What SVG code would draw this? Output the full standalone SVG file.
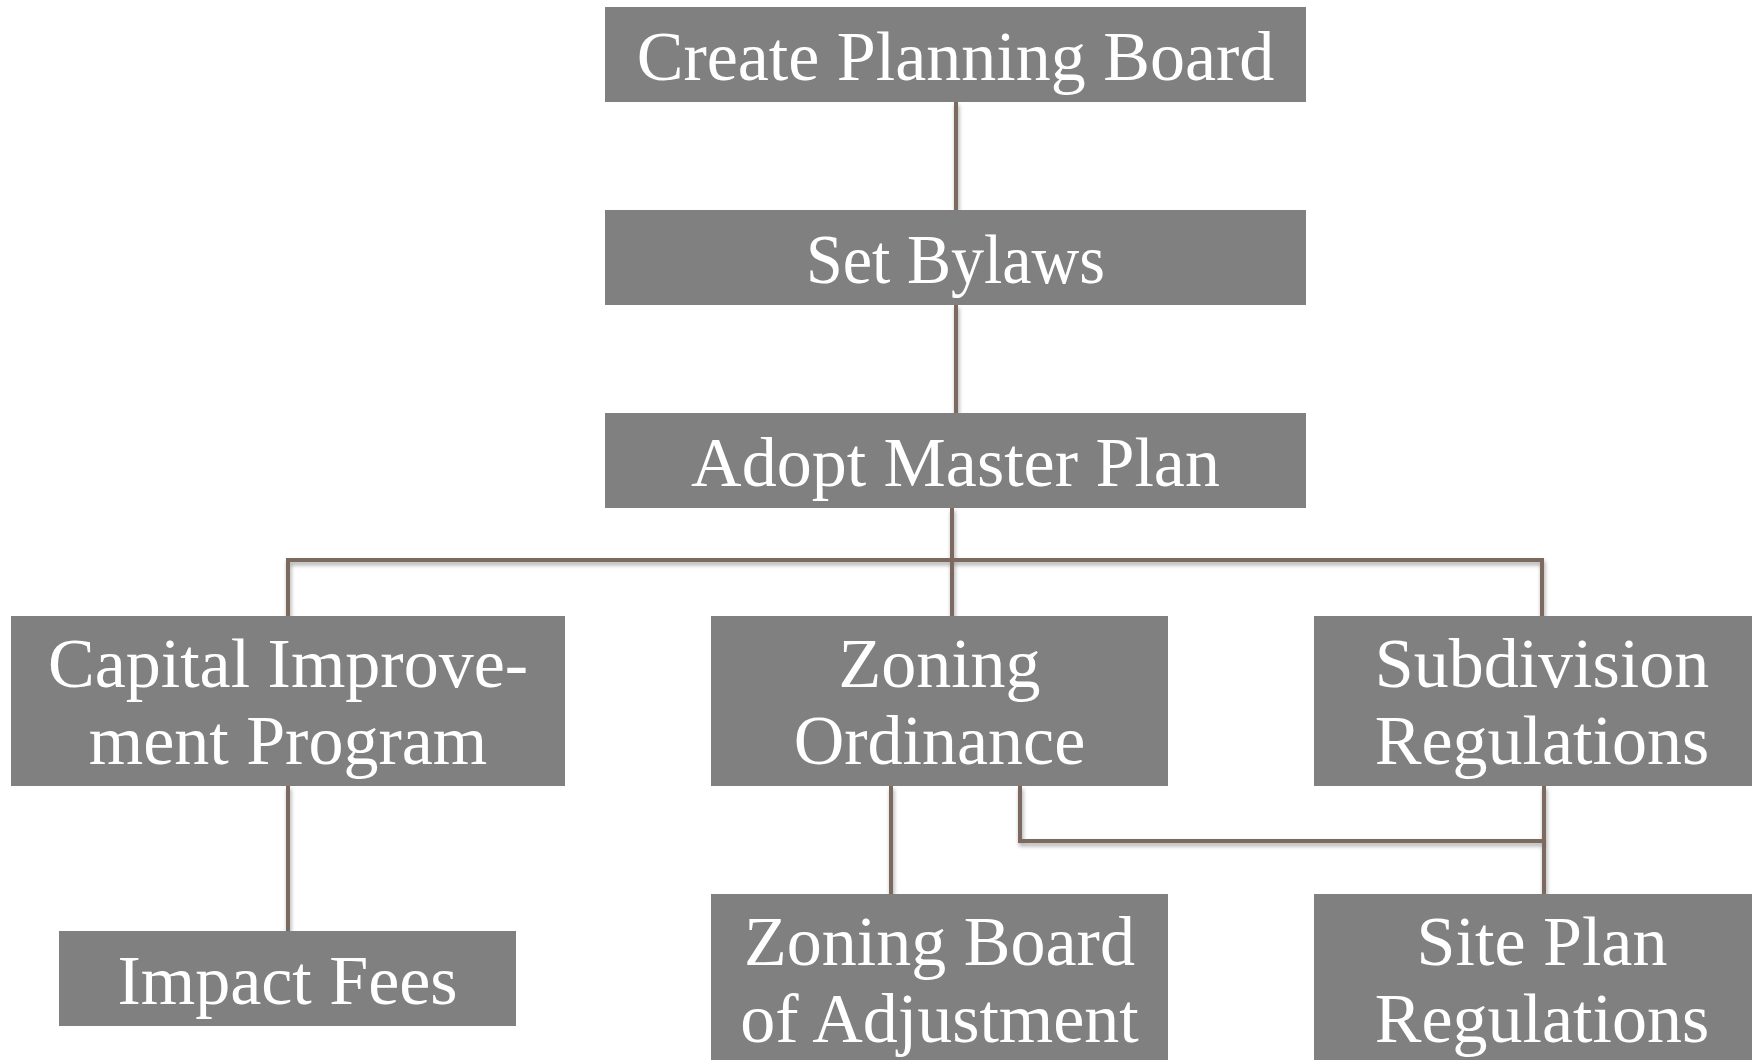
<svg xmlns="http://www.w3.org/2000/svg" width="1752" height="1060" viewBox="0 0 1752 1060">
<defs>
<filter id="sh" x="-5%" y="-50%" width="110%" height="200%">
<feGaussianBlur in="SourceAlpha" stdDeviation="2"/>
<feOffset dx="1" dy="3" result="b"/>
<feComponentTransfer><feFuncA type="linear" slope="0.35"/></feComponentTransfer>
<feMerge><feMergeNode/><feMergeNode in="SourceGraphic"/></feMerge>
</filter>
<style>
.box{fill:#808080}
.t{fill:#ffffff;font-family:"Liberation Serif","Times New Roman",serif;font-size:70px;text-anchor:middle}
.c{fill:none;stroke:#7b6b60;stroke-width:4;stroke-linejoin:miter}
</style>
</defs>
<rect width="1752" height="1060" fill="#ffffff"/>
<g id="connectors" filter="url(#sh)">
<path class="c" d="M956 102 V210"/>
<path class="c" d="M956 305 V413"/>
<path class="c" d="M952 508 V616"/>
<path class="c" d="M288 616 V560 H1542 V616"/>
<path class="c" d="M288 786 V931"/>
<path class="c" d="M891 786 V894"/>
<path class="c" d="M1020 786 V841 H1544"/>
<path class="c" d="M1544 786 V894"/>
</g>
<g id="create-planning-board">
<rect class="box" x="605" y="7" width="701" height="95"/>
<text class="t" x="955.5" y="80">Create Planning Board</text>
</g>
<g id="set-bylaws">
<rect class="box" x="605" y="210" width="701" height="95"/>
<text class="t" x="955.5" y="283" textLength="299" lengthAdjust="spacingAndGlyphs">Set Bylaws</text>
</g>
<g id="adopt-master-plan">
<rect class="box" x="605" y="413" width="701" height="95"/>
<text class="t" x="955.5" y="486">Adopt Master Plan</text>
</g>
<g id="capital-improvement-program">
<rect class="box" x="11" y="616" width="554" height="170"/>
<text class="t" x="288" y="687">Capital Improve-</text>
<text class="t" x="288" y="764">ment Program</text>
</g>
<g id="zoning-ordinance">
<rect class="box" x="711" y="616" width="457" height="170"/>
<text class="t" x="939.5" y="687">Zoning</text>
<text class="t" x="939.5" y="764">Ordinance</text>
</g>
<g id="subdivision-regulations">
<rect class="box" x="1314" y="616" width="457" height="170"/>
<text class="t" x="1542" y="687">Subdivision</text>
<text class="t" x="1542" y="764">Regulations</text>
</g>
<g id="impact-fees">
<rect class="box" x="59" y="931" width="457" height="95"/>
<text class="t" x="287.5" y="1004">Impact Fees</text>
</g>
<g id="zoning-board-of-adjustment">
<rect class="box" x="711" y="894" width="457" height="170"/>
<text class="t" x="939.5" y="965">Zoning Board</text>
<text class="t" x="939.5" y="1042">of Adjustment</text>
</g>
<g id="site-plan-regulations">
<rect class="box" x="1314" y="894" width="457" height="170"/>
<text class="t" x="1542" y="965">Site Plan</text>
<text class="t" x="1542" y="1042">Regulations</text>
</g>
</svg>
